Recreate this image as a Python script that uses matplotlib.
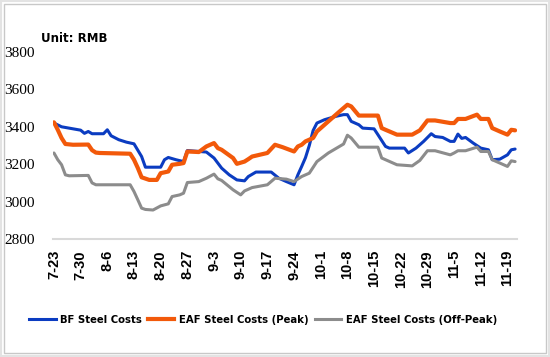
import numpy as np
import pandas as pd
import matplotlib
matplotlib.use('Agg')
import matplotlib.pyplot as plt
from matplotlib.lines import Line2D
from matplotlib.patches import Rectangle

YEAR = 2018

# BF steel costs (RMB)
bf_dates = ['07-23', '07-25', '07-30', '07-31', '08-01', '08-02', '08-05', '08-06', '08-07', '08-09',
            '08-11', '08-13', '08-15', '08-16', '08-20', '08-21', '08-22', '08-24', '08-26', '08-27',
            '09-01', '09-03', '09-05', '09-07', '09-09', '09-11', '09-12', '09-14', '09-18', '09-20',
            '09-22', '09-24', '09-25', '09-26', '09-27', '09-28', '09-29', '09-30', '10-02', '10-05',
            '10-07', '10-08', '10-09', '10-11', '10-12', '10-15', '10-16', '10-18', '10-19', '10-23',
            '10-24', '10-26', '10-28', '10-30', '10-31', '11-02', '11-04', '11-05', '11-06', '11-07',
            '11-08', '11-10', '11-12', '11-14', '11-15', '11-17', '11-19', '11-20', '11-21']
bf_values = [3420, 3400, 3382, 3365, 3375, 3363, 3363, 3384, 3352, 3331,
             3318, 3309, 3241, 3184, 3184, 3224, 3236, 3224, 3214, 3273,
             3265, 3233, 3179, 3143, 3116, 3111, 3134, 3158, 3158, 3125,
             3107, 3090, 3143, 3188, 3235, 3300, 3380, 3420, 3438, 3456,
             3465, 3465, 3429, 3411, 3393, 3389, 3358, 3295, 3286, 3286,
             3260, 3286, 3322, 3363, 3348, 3343, 3322, 3322, 3361, 3338,
             3343, 3313, 3286, 3277, 3224, 3227, 3250, 3277, 3281]

# EAF steel costs, peak electricity
peak_dates = ['07-23', '07-24', '07-25', '07-26', '07-28', '08-01', '08-02', '08-03', '08-04', '08-12',
              '08-13', '08-14', '08-15', '08-17', '08-19', '08-20', '08-22', '08-23', '08-25', '08-26',
              '08-27', '08-30', '09-01', '09-03', '09-04', '09-05', '09-08', '09-09', '09-11', '09-12',
              '09-13', '09-17', '09-19', '09-21', '09-24', '09-25', '09-26', '09-27', '09-29', '09-30',
              '10-03', '10-06', '10-08', '10-09', '10-11', '10-16', '10-17', '10-18', '10-21', '10-25',
              '10-27', '10-29', '10-31', '11-04', '11-05', '11-06', '11-08', '11-11', '11-12', '11-14',
              '11-15', '11-17', '11-19', '11-20', '11-21']
peak_values = [3424, 3384, 3340, 3308, 3304, 3305, 3275, 3262, 3260, 3256,
               3224, 3180, 3130, 3116, 3116, 3152, 3161, 3197, 3202, 3206,
               3268, 3265, 3295, 3313, 3286, 3277, 3233, 3202, 3214, 3227,
               3241, 3260, 3304, 3291, 3268, 3295, 3304, 3322, 3340, 3375,
               3429, 3483, 3518, 3509, 3460, 3460, 3393, 3384, 3358, 3358,
               3381, 3434, 3434, 3420, 3420, 3442, 3442, 3465, 3442, 3442,
               3393, 3375, 3358, 3384, 3381]

# EAF steel costs, off-peak electricity
offpeak_dates = ['07-23', '07-24', '07-25', '07-26', '07-27', '08-01', '08-02', '08-03', '08-12', '08-13',
                 '08-14', '08-15', '08-16', '08-18', '08-20', '08-22', '08-23', '08-25', '08-26', '08-27',
                 '08-30', '09-01', '09-03', '09-04', '09-05', '09-08', '09-10', '09-11', '09-13', '09-17',
                 '09-19', '09-22', '09-24', '09-26', '09-28', '09-30', '10-03', '10-07', '10-08', '10-09',
                 '10-11', '10-16', '10-17', '10-18', '10-21', '10-25', '10-27', '10-29', '10-31', '11-04',
                 '11-05', '11-06', '11-08', '11-11', '11-12', '11-14', '11-15', '11-17', '11-19', '11-20',
                 '11-21']
offpeak_values = [3260, 3224, 3197, 3143, 3138, 3140, 3100, 3090, 3090, 3054,
                  3010, 2965, 2958, 2955, 2977, 2988, 3027, 3036, 3045, 3102,
                  3107, 3125, 3147, 3122, 3113, 3063, 3036, 3057, 3075, 3090,
                  3125, 3120, 3107, 3134, 3152, 3214, 3260, 3308, 3355, 3340,
                  3291, 3291, 3233, 3224, 3197, 3191, 3220, 3272, 3272, 3250,
                  3260, 3272, 3272, 3291, 3268, 3268, 3224, 3206, 3188, 3218,
                  3214]

tick_dates = ['07-23', '07-30', '08-06', '08-13', '08-20', '08-27', '09-03', '09-10', '09-17',
              '09-24', '10-01', '10-08', '10-15', '10-22', '10-29', '11-05', '11-12', '11-19']
y_ticks = [2800, 3000, 3200, 3400, 3600, 3800]

series_names = ['BF Steel Costs', 'EAF Steel Costs (Peak)', 'EAF Steel Costs (Off-Peak)']
colors = ['#0B3CC1', '#F2590A', '#8C8C8C']


def to_dates(md):
    return pd.to_datetime([f'{YEAR}-{s}' for s in md])


fig = plt.figure(figsize=(5.5, 3.57), dpi=100)
ax = fig.add_axes([53 / 550, 1 - 239 / 357, 464 / 550, 187 / 357])

lw = [2.2, 3.0, 2.2]
ax.plot(to_dates(bf_dates), bf_values, color=colors[0], lw=lw[0],
        solid_joinstyle='round', solid_capstyle='round', zorder=3)
ax.plot(to_dates(offpeak_dates), offpeak_values, color=colors[2], lw=lw[2],
        solid_joinstyle='round', solid_capstyle='round', zorder=4)
ax.plot(to_dates(peak_dates), peak_values, color=colors[1], lw=lw[1],
        solid_joinstyle='round', solid_capstyle='round', zorder=5)

start = pd.Timestamp(f'{YEAR}-07-23')
ax.set_xlim(start - pd.Timedelta(hours=6), start + pd.Timedelta(days=121.5))
ax.set_ylim(2800, 3800)

ticks = to_dates(tick_dates)
ax.set_xticks(ticks)
ax.set_xticklabels([f'{d.month}-{d.day}' for d in ticks], rotation=90,
                   family='Liberation Sans', fontsize=10.5, fontweight='bold')
ax.set_yticks(y_ticks)
ax.set_yticklabels([str(v) for v in y_ticks], family='Liberation Serif', fontsize=11)
ax.tick_params(axis='both', length=0)
ax.tick_params(axis='x', pad=8)
ax.tick_params(axis='y', pad=13)

for side in ['top', 'right', 'left']:
    ax.spines[side].set_visible(False)
ax.spines['bottom'].set_color('#D9D9D9')
ax.spines['bottom'].set_linewidth(1.5)

fig.text(41 / 550, 1 - 38 / 357, 'Unit: RMB', fontsize=8.5, fontweight='bold',
         family='DejaVu Sans', va='center', ha='left')

handles = [Line2D([], [], color=c, lw=w) for c, w in zip(colors, lw)]
leg = fig.legend(handles, series_names, loc='center', bbox_to_anchor=(263 / 550, 1 - 320 / 357),
                 ncol=3, frameon=False, handlelength=2.6, handletextpad=0.45, columnspacing=0.6,
                 prop={'family': 'DejaVu Sans', 'weight': 'bold', 'size': 7.3})

# picture frame
fig.patches.append(Rectangle((1 / 550, 1 / 357), 548 / 550, 355 / 357, transform=fig.transFigure,
                             fill=False, edgecolor='#E3E3E3', lw=1.5))
fig.patches.append(Rectangle((4 / 550, 4 / 357), 542 / 550, 349 / 357, transform=fig.transFigure,
                             fill=False, edgecolor='#C8C8C8', lw=1.0))

fig.savefig('out.png', dpi=100)
